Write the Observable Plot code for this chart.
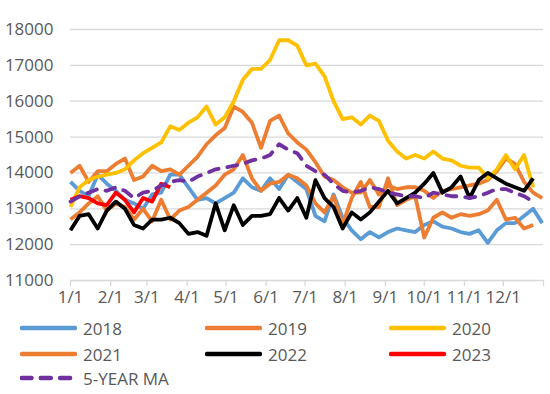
<!DOCTYPE html>
<html><head><meta charset="utf-8">
<script src="https://cdn.jsdelivr.net/npm/d3@7"></script>
<script src="https://cdn.jsdelivr.net/npm/@observablehq/plot@0.6"></script>
<style>
body{margin:0;background:#fff;font-family:"Open Sans",sans-serif;}
#wrap{position:relative;width:550px;height:394px;overflow:hidden;}
#legend{position:absolute;left:0;top:0;width:550px;height:394px;}
.item{position:absolute;display:flex;align-items:center;font-size:17px;color:#595959;height:24px;white-space:nowrap;}
.item svg{display:block;margin-right:6px;}
</style></head><body>
<div id="wrap"><div id="chart"></div><div id="legend"></div></div>
<script>
const monthLabels = ["1/1","2/1","3/1","4/1","5/1","6/1","7/1","8/1","9/1","10/1","11/1","12/1"];
const yTicks = [11000,12000,13000,14000,15000,16000,17000,18000];

const v2018 = [13750,13500,13350,13950,13700,13500,13250,13150,13000,13400,13450,13950,13950,13600,13250,13300,13150,13300,13450,13850,13600,13500,13850,13550,13950,13750,13550,12800,12650,13400,12750,12400,12150,12350,12200,12350,12450,12400,12350,12550,12650,12500,12450,12350,12300,12400,12050,12400,12600,12600,12800,13000,12600];
const v2019 = [14000,14200,13750,14050,14050,14250,14400,13800,13900,14200,14050,14100,13950,14200,14450,14800,15050,15250,15850,15700,15400,14700,15450,15600,15100,14850,14650,14300,13900,13800,13600,13450,13450,13800,13400,13650,13550,13600,13600,13500,13300,13500,13550,13600,13650,13700,13800,14050,14400,14250,13750,13450,13300];
const v2020 = [13050,13600,13800,13900,13950,14000,14100,14350,14550,14700,14850,15300,15200,15400,15550,15850,15350,15550,16000,16600,16900,16900,17150,17700,17700,17550,17000,17050,16700,16000,15500,15550,15350,15600,15450,14900,14600,14400,14500,14400,14600,14400,14350,14200,14150,14150,13850,14100,14500,14100,14500,13600];
const v2021 = [12700,12900,13150,13350,12950,13150,13050,12700,13000,12650,13250,12700,12950,13050,13250,13450,13650,13950,14100,14500,13850,13500,13700,13750,13950,13850,13650,13150,12900,13350,12550,13300,13750,13050,13050,13850,13100,13250,13350,12200,12750,12900,12750,12850,12800,12850,12950,13250,12700,12750,12450,12550];
const v2022 = [12400,12800,12850,12450,12950,13200,13000,12550,12450,12700,12700,12750,12600,12300,12350,12250,13150,12400,13100,12550,12800,12800,12850,13300,12950,13300,12750,13800,13300,13050,12450,12900,12700,12900,13200,13500,13150,13300,13450,13700,14000,13450,13600,13900,13300,13800,14000,13850,13700,13600,13500,13850];
const v2023 = [13250,13350,13300,13150,13100,13450,13250,12900,13300,13200,13700,13600];
const vMA = [13200,13350,13450,13550,13500,13600,13500,13300,13450,13500,13650,13750,13800,13750,13900,14000,14100,14150,14200,14250,14350,14400,14500,14800,14650,14550,14200,14050,13950,13700,13500,13450,13500,13600,13550,13450,13400,13350,13350,13300,13450,13400,13350,13350,13300,13350,13450,13550,13550,13450,13350,13200];

const seriesNames = ["2018","2019","2020","2021","2022","2023","5-YEAR MA"];
const seriesValues = [v2018,v2019,v2020,v2021,v2022,v2023,vMA];
const seriesColors = ["#5B9BD5","#ED7D31","#FFC000","#ED7D31","#000000","#FF0000","#7030A0"];
const seriesDashed = [false,false,false,false,false,false,true];

const weekDate = i => new Date(Date.UTC(2021,0,1+7*i));
const monthTicks = d3.utcMonth.range(new Date(Date.UTC(2021,0,1)), new Date(Date.UTC(2022,0,2)));

const lineMarks = seriesValues.map((vals,k) => {
  const rows = vals.map((v,i) => ({series: seriesNames[k], date: weekDate(i), value: v}));
  return Plot.line(rows, {
    x: "date", y: "value",
    stroke: seriesColors[k], strokeWidth: 3.8,
    strokeLinejoin: "round",
    strokeLinecap: seriesDashed[k] ? "round" : "butt",
    strokeDasharray: seriesDashed[k] ? "10,9" : null
  });
});

const chart = Plot.plot({
  width: 550, height: 310,
  marginLeft: 70, marginRight: 7, marginTop: 29, marginBottom: 30,
  style: {fontFamily: "'Open Sans', sans-serif", background: "white", color: "#595959"},
  x: {type: "utc", domain: [new Date(Date.UTC(2021,0,1)), new Date(Date.UTC(2022,0,1))]},
  y: {domain: [11000, 18000]},
  marks: [
    Plot.gridY(yTicks, {stroke: "#d9d9d9", strokeOpacity: 1, strokeWidth: 1.3}),
    Plot.axisY(yTicks, {tickSize: 0, tickPadding: 17, tickFormat: d3.format("d"), fontSize: 17, fill: "#595959", label: null}),
    Plot.axisX(monthTicks, {tickSize: 6, tickPadding: 4, stroke: "#d9d9d9", strokeWidth: 1.3, strokeOpacity: 1,
      tickFormat: d => d.getUTCFullYear() > 2021 ? "" : monthLabels[d.getUTCMonth()],
      fontSize: 17, fill: "#595959", label: null}),
    ...lineMarks
  ]
});
document.getElementById("chart").appendChild(chart);

const legend = document.getElementById("legend");
const colX = [20, 205, 389];
const rowY = [328, 354, 378];
seriesNames.forEach((name,k) => {
  const col = k % 3, row = Math.floor(k / 3);
  const item = document.createElement("div");
  item.className = "item";
  item.style.left = colX[col] + "px";
  item.style.top = (rowY[row] - 12) + "px";
  const dashed = seriesDashed[k];
  item.innerHTML = `<svg width="57" height="24"><line x1="${dashed ? 1.5 : 2}" x2="${dashed ? 52 : 55}" y1="12" y2="12" stroke="${seriesColors[k]}" stroke-width="4.5" stroke-linecap="round" ${dashed ? 'stroke-dasharray="10,9.3"' : ''}/></svg><span>${name}</span>`;
  legend.appendChild(item);
});
</script>
</body></html>
